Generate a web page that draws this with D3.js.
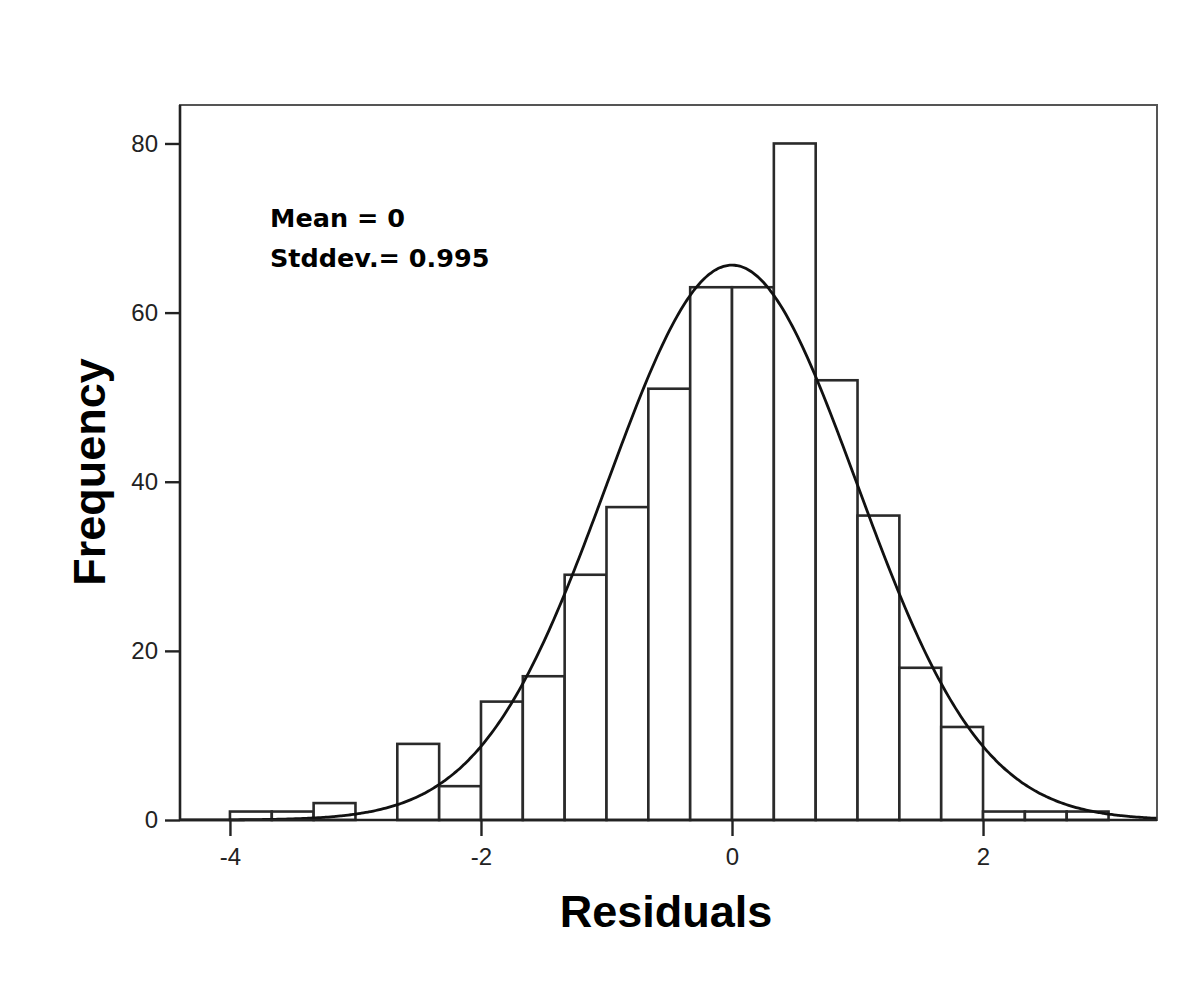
<!DOCTYPE html>
<html>
<head>
<meta charset="utf-8">
<script src="https://d3js.org/d3.v7.min.js"></script>
<style>
  body { margin: 0; background: #fff; }
  svg { display: block; }
</style>
</head>
<body>
<div id="chart"></div>
<script>
// histogram of residuals, bins of width 1/3 starting at -4
const binStart = -4, binWidth = 1 / 3;
const counts = [1, 1, 2, 0, 9, 4, 14, 17, 29, 37, 51, 63, 63, 80, 52, 36, 18, 11, 1, 1, 1];
const xTicks = [-4, -2, 0, 2];
const yTicks = [0, 20, 40, 60, 80];
const mean = 0, stddev = 0.995;

const width = 1200, height = 1008,
      margin = ({top: 105, right: 43, bottom: 188, left: 180});

const bins = counts.map((c, i) => ({x0: binStart + i * binWidth, x1: binStart + (i + 1) * binWidth, n: c}));
const total = d3.sum(counts);

let svg = d3.select("#chart").append("svg")
    .attr("width", width).attr("height", height)
    .attr("viewBox", [0, 0, width, height]);

let x = d3.scaleLinear()
    .domain([-4.398, 3.386])
    .range([margin.left, width - margin.right]);

let y = d3.scaleLinear()
    .domain([0, 84.55])
    .range([height - margin.bottom, margin.top]);

// frame (top + right lighter)
svg.append("rect")
    .attr("x", margin.left).attr("y", margin.top)
    .attr("width", width - margin.right - margin.left)
    .attr("height", height - margin.bottom - margin.top)
    .attr("fill", "none").attr("stroke", "#555").attr("stroke-width", 2);

// bars
svg.selectAll(".bar")
    .data(bins.filter(d => d.n > 0))
    .join("rect")
    .attr("class", "bar")
    .attr("x", d => x(d.x0))
    .attr("width", d => x(d.x1) - x(d.x0))
    .attr("y", d => y(d.n))
    .attr("height", d => y(0) - y(d.n))
    .attr("fill", "#fff")
    .attr("stroke", "#2a2a2a")
    .attr("stroke-width", 2.6);

// fitted normal curve from mean / stddev
const curveX = d3.range(x.domain()[0], x.domain()[1] + 0.001, 0.02);
const dens = v => total * binWidth / (stddev * Math.sqrt(2 * Math.PI)) * Math.exp(-0.5 * ((v - mean) / stddev) ** 2);
svg.append("path")
    .datum(curveX)
    .attr("fill", "none")
    .attr("stroke", "#111")
    .attr("stroke-width", 2.8)
    .attr("d", d3.line().x(d => x(d)).y(d => y(dens(d))).curve(d3.curveBasis));

// axes (plain hyphen minus like the original)
const fmt = d => String(d);
let xAxis = svg.append("g")
    .attr("transform", `translate(0,${height - margin.bottom})`)
    .call(d3.axisBottom(x).tickValues(xTicks).tickFormat(fmt).tickSize(16).tickPadding(12).tickSizeOuter(0));
xAxis.select(".domain").attr("stroke", "#222").attr("stroke-width", 2.6)
    .attr("d", `M${margin.left},0H${width - margin.right}`);

let yAxis = svg.append("g")
    .attr("transform", `translate(${margin.left},0)`)
    .call(d3.axisLeft(y).tickValues(yTicks).tickFormat(fmt).tickSize(15).tickPadding(7).tickSizeOuter(0));
yAxis.select(".domain").attr("stroke", "#222").attr("stroke-width", 2.6)
    .attr("d", `M0,${margin.top}V${height - margin.bottom}`);

svg.selectAll(".tick line").attr("stroke", "#222").attr("stroke-width", 2.4);
svg.selectAll(".tick text")
    .attr("font-family", "Liberation Sans, Arial, sans-serif")
    .attr("font-size", 24).attr("fill", "#222");

// axis titles
svg.append("text")
    .attr("x", 666).attr("y", 927)
    .attr("text-anchor", "middle")
    .attr("font-family", "Liberation Sans, Arial, sans-serif")
    .attr("font-weight", "bold").attr("font-size", 45)
    .text("Residuals");

svg.append("text")
    .attr("transform", "translate(105,472) rotate(-90)")
    .attr("text-anchor", "middle")
    .attr("font-family", "Liberation Sans, Arial, sans-serif")
    .attr("font-weight", "bold").attr("font-size", 45)
    .text("Frequency");

// stats annotation
const notes = [`Mean = ${mean}`, `Stddev.= ${stddev}`];
svg.selectAll(".note")
    .data(notes)
    .join("text")
    .attr("class", "note")
    .attr("x", 270).attr("y", (d, i) => 227 + i * 40)
    .attr("font-family", "DejaVu Sans, sans-serif")
    .attr("font-weight", "bold").attr("font-size", 25.5)
    .text(d => d);
</script>
</body>
</html>
